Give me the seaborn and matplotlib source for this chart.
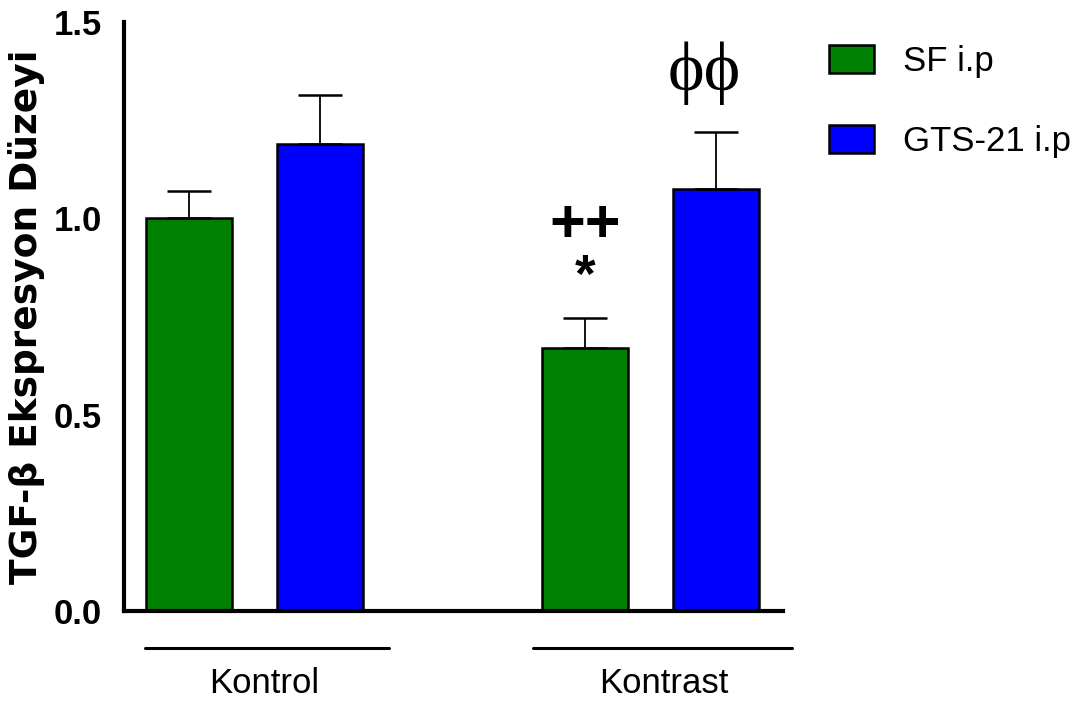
import numpy as np
import pandas as pd
import matplotlib
matplotlib.use("Agg")
import matplotlib.pyplot as plt
import matplotlib.transforms as mtransforms
import seaborn as sns

# Values
groups = ["Kontrol", "Kontrast"]
treatments = ["SF i.p", "GTS-21 i.p"]
means = {
    "SF i.p": [1.00, 0.67],
    "GTS-21 i.p": [1.19, 1.075],
}
sems = {
    "SF i.p": [0.07, 0.075],
    "GTS-21 i.p": [0.125, 0.145],
}
# significance marks above the Kontrast bars
marks = {
    ("Kontrast", "SF i.p"): ["*", "++"],
    ("Kontrast", "GTS-21 i.p"): ["\u03d5\u03d5"],
}
colors = {"SF i.p": "#008000", "GTS-21 i.p": "#0000ff"}

rows = []
for t in treatments:
    for g, m, s in zip(groups, means[t], sems[t]):
        rows.append({"group": g, "treatment": t, "value": m, "sem": s})
df = pd.DataFrame(rows)

sns.set_style("white")
plt.rcParams["font.family"] = ["Liberation Sans Narrow", "Liberation Sans", "DejaVu Sans"]
plt.rcParams["text.color"] = "black"
plt.rcParams["axes.labelcolor"] = "black"
plt.rcParams["ytick.color"] = "black"

fig = plt.figure(figsize=(10.9, 7.01), dpi=100)
ax = fig.add_axes([0.1138, 0.1284, 0.6046, 0.8402])

sns.barplot(
    data=df, x="group", y="value", hue="treatment",
    order=groups, hue_order=treatments, palette=colors,
    width=0.662, gap=0.344, errorbar=None,
    edgecolor="black", linewidth=1.8, saturation=1, ax=ax,
)

# one-sided error bars (mean + SEM)
bar_pos = {}
for t, cont in zip(treatments, ax.containers):
    for g, bar in zip(groups, cont):
        xc = bar.get_x() + bar.get_width() / 2
        h = bar.get_height()
        s = df.loc[(df.group == g) & (df.treatment == t), "sem"].iloc[0]
        bar_pos[(g, t)] = (xc, h + s)
        ax.errorbar(xc, h, yerr=[[0], [s]], fmt="none", ecolor="black",
                    elinewidth=1.3, capsize=16, capthick=1.8, zorder=1)

for key, syms in marks.items():
    xc, top = bar_pos[key]
    for sym in syms:
        if sym == "*":
            ax.annotate(sym, (xc, top), xytext=(0, 29), textcoords="offset points",
                        ha="center", va="center", fontsize=38, fontweight="bold",
                        family=["Liberation Sans", "DejaVu Sans"])
        elif sym == "++":
            ax.annotate(sym, (xc, top), xytext=(0, 66), textcoords="offset points",
                        ha="center", va="center", fontsize=44, fontweight="bold",
                        family=["Liberation Sans", "DejaVu Sans"])
        else:
            ax.annotate(sym, (xc, top), xytext=(-8.5, 42), textcoords="offset points",
                        ha="center", va="center", fontsize=50,
                        family=["Liberation Serif", "DejaVu Serif"])

ax.set_ylim(0, 1.5)
ax.set_xlim(-0.33, 1.335)
ax.set_yticks([0.0, 0.5, 1.0, 1.5])
ax.set_yticklabels(["0.0", "0.5", "1.0", "1.5"], fontsize=25, fontweight="bold")
ax.tick_params(axis="y", length=10, width=3, pad=6, colors="black")
ax.tick_params(axis="x", length=0, labelbottom=False)
ax.set_xlabel("")
ax.set_ylabel("TGF-\u03b2 Ekspresyon D\u00fczeyi", fontsize=27, fontweight="bold",
              family=["DejaVu Sans"], labelpad=6)
sns.despine(ax=ax)
for side in ["left", "bottom"]:
    ax.spines[side].set_linewidth(3)
    ax.spines[side].set_color("black")

# group underlines and labels below the axis
trans = mtransforms.blended_transform_factory(ax.transData, ax.transAxes)
spans = {"Kontrol": (-0.277, 0.339), "Kontrast": (0.703, 1.357)}
label_x = {"Kontrol": 0.023, "Kontrast": 1.034}
for g in groups:
    x0, x1 = spans[g]
    ax.plot([x0, x1], [-0.063, -0.063], color="black", lw=2.2,
            transform=trans, clip_on=False)
    ax.text(label_x[g], -0.139, g, transform=trans, ha="center", va="baseline",
            fontsize=25)

handles, labels = ax.get_legend_handles_labels()
ax.legend(handles, labels, loc="upper left", bbox_to_anchor=(0.7606, 0.936),
          bbox_transform=fig.transFigure, frameon=False, fontsize=25,
          handlelength=1.3, handleheight=0.86, handletextpad=0.84,
          labelspacing=1.35, borderpad=0, borderaxespad=0)

fig.savefig("out.png", dpi=100)
